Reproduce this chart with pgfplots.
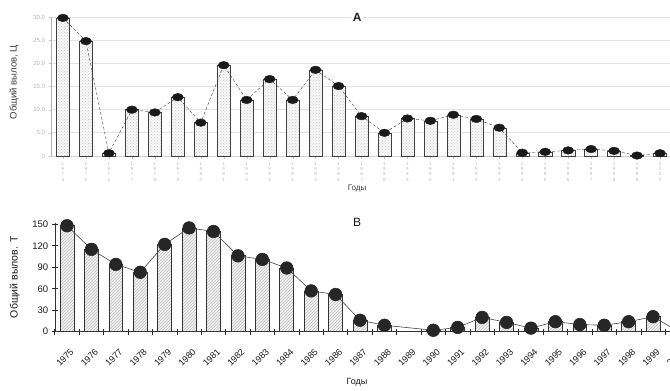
\documentclass[border=0pt]{standalone}
\usepackage{pgfplots}
\pgfplotsset{compat=1.18}
\usepackage{fontspec}
\setmainfont{Liberation Sans}
\usetikzlibrary{patterns}
\newcommand\yr[4]{#1\\#2\\#3\\#4}
\pgfplotstableread{
x y
0 29.8
1 24.8
2 0.6
3 10.0
4 9.4
5 12.7
6 7.2
7 19.6
8 12.1
9 16.6
10 12.1
11 18.6
12 15.1
13 8.6
14 5.0
15 8.1
16 7.6
17 8.9
18 8.0
19 6.1
20 0.7
21 0.9
22 1.2
23 1.5
24 1.1
25 0.1
26 0.6
}\topdata
\pgfplotstableread{
x y
1975 148
1976 115
1977 94
1978 83
1979 122
1980 145
1981 140
1982 106
1983 101
1984 89
1985 57
1986 52
1987 16
1988 9
1990 2
1991 6
1992 20
1993 13
1994 5
1995 14
1996 10
1997 9
1998 14
1999 21
2000 1
}\botdata
\begin{document}
\begin{tikzpicture}[x=1pt,y=1pt]
\useasboundingbox (0,0) rectangle (670,391);
% ---------------- Panel A ----------------
\begin{axis}[
  at={(51.5pt,235pt)}, anchor=south west,
  scale only axis, width=620pt, height=139pt,
  xmin=-0.5, xmax=26.5, ymin=0, ymax=30,
  clip=false,
  axis lines=left,
  x axis line style={-, gray!35},
  y axis line style={-, gray!60},
  ytick={0,5,...,30},
  yticklabels={0,5.0,10.0,15.0,20.0,25.0,30.0},
  yticklabel style={font=\fontsize{6}{6}\selectfont, text=gray!60},
  ymajorgrids, grid style={gray!22, line width=0.7pt},
  xtick={0,...,26},
  xticklabels={\yr1974,\yr1975,\yr1976,\yr1977,\yr1978,\yr1979,\yr1980,\yr1981,\yr1982,\yr1983,\yr1984,\yr1985,\yr1986,\yr1987,\yr1988,\yr1989,\yr1990,\yr1991,\yr1992,\yr1993,\yr1994,\yr1995,\yr1996,\yr1997,\yr1998,\yr1999,\yr2000},
  xticklabel style={align=center, font=\fontsize{4.5}{5.3}\selectfont, text=gray!55, yshift=-2pt, inner sep=1pt},
  tick style={gray!45}, major tick length=3pt, tick align=outside,
  ylabel={Общий вылов, Ц},
  ylabel style={at={(axis description cs:-0.0605,0.53)}, anchor=center, font=\fontsize{9.5}{10}\selectfont, text=gray!45!black},
]
\addplot[ybar, bar width=0.57, draw=gray!50!black, fill=gray!6,
  postaction={pattern=crosshatch dots, pattern color=gray!40}] table[x=x,y=y] {\topdata};
\addplot[densely dashed, gray!45!black, thin, mark=*, mark size=3.8pt,
  mark options={solid, fill=black!90, draw=black!90, xscale=1.45}] table[x=x,y=y] {\topdata};
\node[font=\bfseries\fontsize{12}{12}\selectfont, fill=white, inner sep=2pt, text=gray!25!black] at (axis description cs:0.493,1.0) {А};
\node[font=\fontsize{8}{8}\selectfont, text=gray!45!black, inner sep=1pt] at (axis description cs:0.493,-0.235) {Годы};
\end{axis}
% ---------------- Panel B ----------------
\begin{axis}[
  at={(54.8pt,59.3pt)}, anchor=south west,
  scale only axis, width=634.9pt, height=108.8pt,
  xmin=1974.5, xmax=2000.5, ymin=0, ymax=152,
  clip=false,
  axis lines=left,
  axis line style={-, gray!40!black},
  ytick={0,30,...,150},
  /pgf/number format/assume math mode=true,
  yticklabel style={font=\fontsize{9.5}{10}\selectfont, text=gray!20!black},
  xtick={1974.5,1975.5,...,2000.5},
  xticklabels={},
  tick style={gray!30!black, line width=0.7pt}, major tick length=6pt, tick align=center,
  extra x ticks={1975,1976,1977,1978,1979,1980,1981,1982,1983,1984,1985,1986,1987,1988,1989,1990,1991,1992,1993,1994,1995,1996,1997,1998,1999,2000},
  extra x tick labels={1975,1976,1977,1978,1979,1980,1981,1982,1983,1984,1985,1986,1987,1988,1989,1990,1991,1992,1993,1994,1995,1996,1997,1998,1999,2000},
  extra x tick style={major tick length=0pt, xticklabel style={rotate=45, anchor=north east, inner sep=0.5pt, font=\fontsize{9}{9}\selectfont, text=gray!20!black, xshift=-9pt, yshift=-13pt}},
  ylabel={Общий вылов. Т},
  ylabel style={at={(axis description cs:-0.063,0.5)}, anchor=center, font=\fontsize{10.5}{11}\selectfont, text=gray!20!black},
]
\addplot[ybar, bar width=0.57, draw=black!80, line width=0.7pt, fill=gray!10,
  postaction={pattern=north east lines, pattern color=gray!50}] table[x=x,y=y] {\botdata};
\addplot[gray!55!black, line width=0.6pt, mark=*, mark size=6.3pt,
  mark options={fill=black!85, draw=black!85}] table[x=x,y=y] {\botdata};
\node[font=\fontsize{12}{12}\selectfont, text=gray!20!black] at (axis description cs:0.476,1.008) {В};
\node[font=\fontsize{9}{9}\selectfont, text=gray!20!black] at (axis description cs:0.476,-0.462) {Годы};
\end{axis}
\end{tikzpicture}
\end{document}
